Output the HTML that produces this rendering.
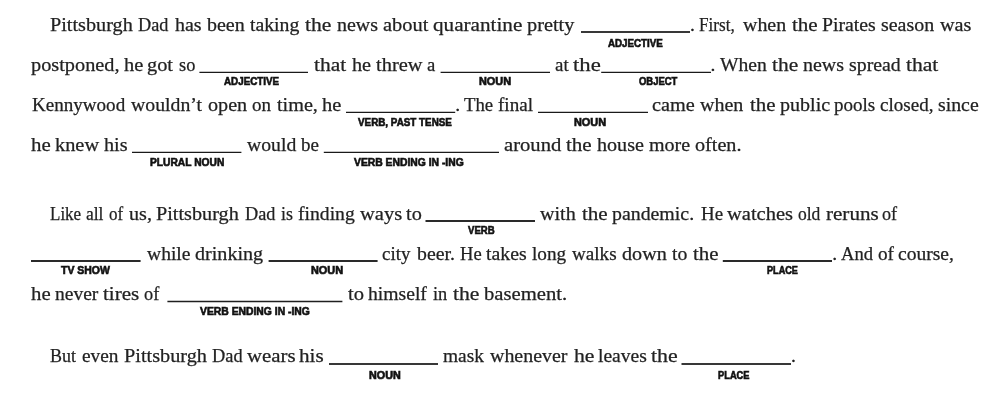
<!DOCTYPE html>
<html><head><meta charset="utf-8"><style>
html,body{margin:0;padding:0;background:#fff;}
body{width:1000px;height:406px;position:relative;overflow:hidden;filter:grayscale(1);}
.t{position:absolute;white-space:pre;font:19.5px "Liberation Serif", serif;line-height:20px;color:#222;transform-origin:0 0;-webkit-text-stroke:0.25px #222;}
.l{position:absolute;white-space:pre;font:bold 11.8px "Liberation Sans", sans-serif;line-height:12px;color:#111;transform-origin:0 0;-webkit-text-stroke:0.7px #111;}
.u{position:absolute;height:2px;background:#3a3a3a;}
</style></head><body>
<div class="t" style="left:50.00px;top:14.50px;transform:scaleX(1.0365)">Pittsburgh</div>
<div class="t" style="left:138.00px;top:14.50px;transform:scaleX(0.9347)">Dad</div>
<div class="t" style="left:174.60px;top:14.50px;transform:scaleX(1.0234)">has</div>
<div class="t" style="left:207.00px;top:14.50px;transform:scaleX(1.0254)">been</div>
<div class="t" style="left:250.40px;top:14.50px;transform:scaleX(1.0124)">taking</div>
<div class="t" style="left:305.40px;top:14.50px;transform:scaleX(1.1050)">the</div>
<div class="t" style="left:336.60px;top:14.50px;transform:scaleX(1.0231)">news</div>
<div class="t" style="left:382.60px;top:14.50px;transform:scaleX(1.0477)">about</div>
<div class="t" style="left:433.40px;top:14.50px;transform:scaleX(1.0853)">quarantine</div>
<div class="t" style="left:527.40px;top:14.50px;transform:scaleX(1.0408)">pretty</div>
<div class="l" style="left:607.60px;top:37px;transform:scaleX(0.8261)">ADJECTIVE</div>
<div class="t" style="left:690.00px;top:14.50px;transform:scaleX(1.0000)">.</div>
<div class="t" style="left:699.00px;top:14.50px;transform:scaleX(0.8802)">First,</div>
<div class="t" style="left:742.60px;top:14.50px;transform:scaleX(1.0215)">when</div>
<div class="t" style="left:792.00px;top:14.50px;transform:scaleX(1.0791)">the</div>
<div class="t" style="left:822.30px;top:14.50px;transform:scaleX(1.0136)">Pirates</div>
<div class="t" style="left:880.60px;top:14.50px;transform:scaleX(1.0223)">season</div>
<div class="t" style="left:939.60px;top:14.50px;transform:scaleX(1.0357)">was</div>
<div class="t" style="left:31.40px;top:54.50px;transform:scaleX(1.0409)">postponed,</div>
<div class="t" style="left:124.00px;top:54.50px;transform:scaleX(1.0479)">he</div>
<div class="t" style="left:147.40px;top:54.50px;transform:scaleX(1.0431)">got</div>
<div class="t" style="left:179.00px;top:54.50px;transform:scaleX(0.9404)">so</div>
<div class="l" style="left:224.40px;top:75px;transform:scaleX(0.8321)">ADJECTIVE</div>
<div class="t" style="left:313.60px;top:54.50px;transform:scaleX(1.0998)">that</div>
<div class="t" style="left:351.60px;top:54.50px;transform:scaleX(1.0366)">he</div>
<div class="t" style="left:375.60px;top:54.50px;transform:scaleX(1.0470)">threw</div>
<div class="t" style="left:427.00px;top:54.50px;transform:scaleX(0.9556)">a</div>
<div class="l" style="left:479.40px;top:75px;transform:scaleX(0.9236)">NOUN</div>
<div class="t" style="left:555.00px;top:54.50px;transform:scaleX(0.9690)">at</div>
<div class="t" style="left:573.00px;top:54.50px;transform:scaleX(1.1654)">the</div>
<div class="l" style="left:638.60px;top:75px;transform:scaleX(0.8017)">OBJECT</div>
<div class="t" style="left:710.50px;top:54.50px;transform:scaleX(1.0000)">.</div>
<div class="t" style="left:720.00px;top:54.50px;transform:scaleX(1.0041)">When</div>
<div class="t" style="left:772.00px;top:54.50px;transform:scaleX(1.0964)">the</div>
<div class="t" style="left:802.60px;top:54.50px;transform:scaleX(1.0231)">news</div>
<div class="t" style="left:849.00px;top:54.50px;transform:scaleX(1.0168)">spread</div>
<div class="t" style="left:906.00px;top:54.50px;transform:scaleX(1.1065)">that</div>
<div class="t" style="left:31.60px;top:94.50px;transform:scaleX(0.9773)">Kennywood</div>
<div class="t" style="left:131.00px;top:94.50px;transform:scaleX(1.0136)">wouldn’t</div>
<div class="t" style="left:207.60px;top:94.50px;transform:scaleX(1.0326)">open</div>
<div class="t" style="left:252.40px;top:94.50px;transform:scaleX(0.9722)">on</div>
<div class="t" style="left:277.00px;top:94.50px;transform:scaleX(1.0347)">time,</div>
<div class="t" style="left:322.40px;top:94.50px;transform:scaleX(1.0479)">he</div>
<div class="l" style="left:357.60px;top:116px;transform:scaleX(0.8344)">VERB, PAST TENSE</div>
<div class="t" style="left:455.20px;top:94.50px;transform:scaleX(1.0000)">.</div>
<div class="t" style="left:463.50px;top:94.50px;transform:scaleX(0.9608)">The</div>
<div class="t" style="left:497.50px;top:94.50px;transform:scaleX(0.9775)">final</div>
<div class="l" style="left:574.40px;top:116px;transform:scaleX(0.9236)">NOUN</div>
<div class="t" style="left:652.40px;top:94.50px;transform:scaleX(1.0376)">came</div>
<div class="t" style="left:700.00px;top:94.50px;transform:scaleX(1.0262)">when</div>
<div class="t" style="left:749.60px;top:94.50px;transform:scaleX(1.0705)">the</div>
<div class="t" style="left:780.00px;top:94.50px;transform:scaleX(1.0288)">public</div>
<div class="t" style="left:834.40px;top:94.50px;transform:scaleX(0.9744)">pools</div>
<div class="t" style="left:880.40px;top:94.50px;transform:scaleX(0.9774)">closed,</div>
<div class="t" style="left:938.00px;top:94.50px;transform:scaleX(1.0149)">since</div>
<div class="t" style="left:31.00px;top:134.50px;transform:scaleX(1.0704)">he</div>
<div class="t" style="left:55.00px;top:134.50px;transform:scaleX(1.0438)">knew</div>
<div class="t" style="left:103.60px;top:134.50px;transform:scaleX(1.0375)">his</div>
<div class="l" style="left:150.40px;top:156px;transform:scaleX(0.8672)">PLURAL NOUN</div>
<div class="t" style="left:246.50px;top:134.50px;transform:scaleX(1.0102)">would</div>
<div class="t" style="left:301.20px;top:134.50px;transform:scaleX(0.9746)">be</div>
<div class="l" style="left:354.00px;top:156px;transform:scaleX(0.8767)">VERB ENDING IN -ING</div>
<div class="t" style="left:503.70px;top:134.50px;transform:scaleX(1.0588)">around</div>
<div class="t" style="left:566.00px;top:134.50px;transform:scaleX(1.0791)">the</div>
<div class="t" style="left:596.80px;top:134.50px;transform:scaleX(1.0304)">house</div>
<div class="t" style="left:648.70px;top:134.50px;transform:scaleX(1.0276)">more</div>
<div class="t" style="left:694.80px;top:134.50px;transform:scaleX(1.0348)">often.</div>
<div class="t" style="left:50.00px;top:203.50px;transform:scaleX(0.8723)">Like</div>
<div class="t" style="left:86.00px;top:203.50px;transform:scaleX(0.8967)">all</div>
<div class="t" style="left:109.40px;top:203.50px;transform:scaleX(0.8716)">of</div>
<div class="t" style="left:129.00px;top:203.50px;transform:scaleX(1.0310)">us,</div>
<div class="t" style="left:156.00px;top:203.50px;transform:scaleX(1.0365)">Pittsburgh</div>
<div class="t" style="left:245.00px;top:203.50px;transform:scaleX(0.9347)">Dad</div>
<div class="t" style="left:281.00px;top:203.50px;transform:scaleX(0.9180)">is</div>
<div class="t" style="left:298.00px;top:203.50px;transform:scaleX(1.0074)">finding</div>
<div class="t" style="left:360.00px;top:203.50px;transform:scaleX(1.0535)">ways</div>
<div class="t" style="left:406.00px;top:203.50px;transform:scaleX(1.0404)">to</div>
<div class="l" style="left:468.20px;top:224px;transform:scaleX(0.8122)">VERB</div>
<div class="t" style="left:540.40px;top:203.50px;transform:scaleX(1.0310)">with</div>
<div class="t" style="left:582.00px;top:203.50px;transform:scaleX(1.0791)">the</div>
<div class="t" style="left:612.40px;top:203.50px;transform:scaleX(1.0175)">pandemic.</div>
<div class="t" style="left:701.00px;top:203.50px;transform:scaleX(0.9691)">He</div>
<div class="t" style="left:727.00px;top:203.50px;transform:scaleX(1.0512)">watches</div>
<div class="t" style="left:798.00px;top:203.50px;transform:scaleX(0.8980)">old</div>
<div class="t" style="left:825.60px;top:203.50px;transform:scaleX(1.0801)">reruns</div>
<div class="t" style="left:882.40px;top:203.50px;transform:scaleX(0.9313)">of</div>
<div class="l" style="left:60.80px;top:264px;transform:scaleX(0.8870)">TV SHOW</div>
<div class="t" style="left:146.60px;top:243.50px;transform:scaleX(1.0031)">while</div>
<div class="t" style="left:195.00px;top:243.50px;transform:scaleX(1.0312)">drinking</div>
<div class="l" style="left:311.00px;top:264px;transform:scaleX(0.9236)">NOUN</div>
<div class="t" style="left:382.40px;top:243.50px;transform:scaleX(0.9698)">city</div>
<div class="t" style="left:417.00px;top:243.50px;transform:scaleX(1.0143)">beer.</div>
<div class="t" style="left:460.00px;top:243.50px;transform:scaleX(0.9510)">He</div>
<div class="t" style="left:486.00px;top:243.50px;transform:scaleX(1.0132)">takes</div>
<div class="t" style="left:531.60px;top:243.50px;transform:scaleX(0.9852)">long</div>
<div class="t" style="left:572.00px;top:243.50px;transform:scaleX(0.9798)">walks</div>
<div class="t" style="left:622.00px;top:243.50px;transform:scaleX(1.0325)">down</div>
<div class="t" style="left:672.00px;top:243.50px;transform:scaleX(1.0126)">to</div>
<div class="t" style="left:692.60px;top:243.50px;transform:scaleX(1.0705)">the</div>
<div class="l" style="left:766.60px;top:264px;transform:scaleX(0.7728)">PLACE</div>
<div class="t" style="left:832.30px;top:243.50px;transform:scaleX(1.0000)">.</div>
<div class="t" style="left:840.80px;top:243.50px;transform:scaleX(0.9518)">And</div>
<div class="t" style="left:877.80px;top:243.50px;transform:scaleX(0.9851)">of</div>
<div class="t" style="left:898.20px;top:243.50px;transform:scaleX(1.0020)">course,</div>
<div class="t" style="left:31.30px;top:283.50px;transform:scaleX(1.0648)">he</div>
<div class="t" style="left:55.00px;top:283.50px;transform:scaleX(0.9998)">never</div>
<div class="t" style="left:103.00px;top:283.50px;transform:scaleX(1.0823)">tires</div>
<div class="t" style="left:143.50px;top:283.50px;transform:scaleX(0.9373)">of</div>
<div class="l" style="left:200.30px;top:305px;transform:scaleX(0.8775)">VERB ENDING IN -ING</div>
<div class="t" style="left:347.80px;top:283.50px;transform:scaleX(1.0543)">to</div>
<div class="t" style="left:367.90px;top:283.50px;transform:scaleX(1.0068)">himself</div>
<div class="t" style="left:433.00px;top:283.50px;transform:scaleX(0.9405)">in</div>
<div class="t" style="left:452.50px;top:283.50px;transform:scaleX(1.1093)">the</div>
<div class="t" style="left:484.20px;top:283.50px;transform:scaleX(1.0587)">basement.</div>
<div class="t" style="left:50.30px;top:346.10px;transform:scaleX(0.9215)">But</div>
<div class="t" style="left:81.80px;top:346.10px;transform:scaleX(0.9903)">even</div>
<div class="t" style="left:123.80px;top:346.10px;transform:scaleX(1.0390)">Pittsburgh</div>
<div class="t" style="left:211.50px;top:346.10px;transform:scaleX(0.9408)">Dad</div>
<div class="t" style="left:246.80px;top:346.10px;transform:scaleX(1.0694)">wears</div>
<div class="t" style="left:299.30px;top:346.10px;transform:scaleX(1.0827)">his</div>
<div class="l" style="left:369.40px;top:369px;transform:scaleX(0.9119)">NOUN</div>
<div class="t" style="left:443.30px;top:346.10px;transform:scaleX(0.9949)">mask</div>
<div class="t" style="left:490.20px;top:346.10px;transform:scaleX(1.0223)">whenever</div>
<div class="t" style="left:573.60px;top:346.10px;transform:scaleX(1.1099)">he</div>
<div class="t" style="left:597.50px;top:346.10px;transform:scaleX(1.0035)">leaves</div>
<div class="t" style="left:650.80px;top:346.10px;transform:scaleX(1.1179)">the</div>
<div class="l" style="left:718.00px;top:369px;transform:scaleX(0.7878)">PLACE</div>
<div class="t" style="left:791.00px;top:346.10px;transform:scaleX(1.0000)">.</div>
<svg width="1000" height="406" style="position:absolute;left:0;top:0">
<line x1="581.0" x2="690.0" y1="32.0" y2="32.0" stroke="#383838" stroke-width="2.0"/>
<line x1="199.4" x2="308.0" y1="72.36" y2="72.36" stroke="#1a1a1a" stroke-width="1.35"/>
<line x1="440.6" x2="550.0" y1="72.36" y2="72.36" stroke="#1a1a1a" stroke-width="1.35"/>
<line x1="601.2" x2="711.0" y1="72.36" y2="72.36" stroke="#1a1a1a" stroke-width="1.35"/>
<line x1="346.0" x2="455.2" y1="112.3" y2="112.3" stroke="#1a1a1a" stroke-width="1.35"/>
<line x1="538.0" x2="648.0" y1="112.3" y2="112.3" stroke="#1a1a1a" stroke-width="1.35"/>
<line x1="132.0" x2="241.4" y1="152.3" y2="152.3" stroke="#1a1a1a" stroke-width="1.35"/>
<line x1="323.8" x2="499.0" y1="152.3" y2="152.3" stroke="#1a1a1a" stroke-width="1.35"/>
<line x1="425.5" x2="535.0" y1="221.1" y2="221.1" stroke="#2a2a2a" stroke-width="2.0"/>
<line x1="31.0" x2="140.6" y1="261.1" y2="261.1" stroke="#2a2a2a" stroke-width="2.0"/>
<line x1="268.6" x2="377.6" y1="261.1" y2="261.1" stroke="#2a2a2a" stroke-width="2.0"/>
<line x1="722.8" x2="832.0" y1="261.1" y2="261.1" stroke="#2a2a2a" stroke-width="2.0"/>
<line x1="167.4" x2="342.4" y1="301.5" y2="301.5" stroke="#1f1f1f" stroke-width="1.5"/>
<line x1="329.0" x2="438.0" y1="363.9" y2="363.9" stroke="#383838" stroke-width="2.0"/>
<line x1="681.5" x2="791.0" y1="363.9" y2="363.9" stroke="#383838" stroke-width="2.0"/>
</svg>
</body></html>
